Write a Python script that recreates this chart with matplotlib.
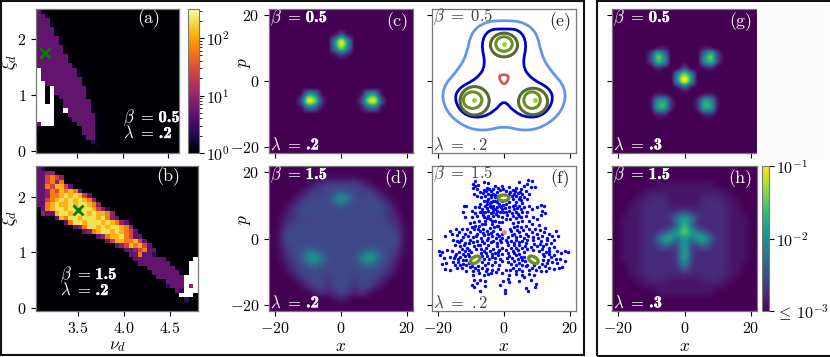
import numpy as np
import matplotlib
matplotlib.use('Agg')
from matplotlib import pyplot as plt
from matplotlib import patheffects
from matplotlib.cm import ScalarMappable
from matplotlib.colors import LogNorm
from matplotlib.patches import Ellipse, PathPatch, Rectangle
from matplotlib.path import Path

plt.rcParams['font.family'] = ['cmr10', 'DejaVu Sans']
plt.rcParams['mathtext.fontset'] = 'cm'
plt.rcParams['axes.formatter.use_mathtext'] = True
plt.rcParams['axes.unicode_minus'] = False

W, H = 830, 357

# stability maps, one char per cell, top row first. W = white (no data)
level_values = [1, 1.2, 2.5, 5, 9, 25, 60, 120, 200, 300]

map_a = [
    "31", "331", "3331", "3331", "33331", "33331", "333331", "333331",
    "3333331", "3333331", "33333331", "33333331", "333333331",
    "W333333331", "W333333331", "W3333333331", "WW333333331",
    "WW0W33333331", "WW0W33333331", "WW0W0333333" + "1", "WW0W00333333" + "1",
    "WWWW00333333" + "1", "WWWW00W33333" + "1", "WWWW000333333" + "1",
    "WWWW000033333" + "1", "3WWW000003333" + "1", "1" + "0" * 9 + "333" + "1",
    "0" * 10 + "333" + "1", "0" * 11 + "33" + "1", "0" * 12 + "21",
    "0" * 12 + "11", "0" * 12 + "1",
]

map_b = [
    "32",
    "3344",
    "335654",
    "3356461",
    "336577531",
    "33465767631",
    "334667878753",
    "3356787878764",
    "33678778788764",
    "1367887887887542",
    "04337887888787764",
    "000037688788878643",
    "00000036887888787643",
    "000000003468878788764",
    "0000000000346788787653",
    "00000000000003467786533",
    "000000000000000357766753",
    "0000000000000000034576753",
    "0" * 19 + "3345633",
    "0" * 20 + "336332",
    "0" * 21 + "3333333" + "1" + "0" * 5 + "W",
    "0" * 22 + "3333333" + "1" + "000" + "WW",
    "0" * 24 + "333333" + "1" + "00" + "WW",
    "0" * 25 + "333333" + "1" + "0" + "WW",
    "0" * 26 + "333333" + "WWW",
    "0" * 28 + "3333" + "WWW",
    "0" * 28 + "2333" + "W4W",
    "0" * 30 + "32" + "WWW",
    "0" * 31 + "WWW",
    "0" * 32 + "21",
    "0" * 32 + "1",
    "0",
]

nu_ticks = [3.5, 4.0, 4.5]
xi_ticks = [0, 1, 2]
marker_a = (3.15, 1.75)
marker_b = (3.5, 1.75)

# phase space densities on a 2 unit grid, hex level per cell, top row first
rows_c = [
    "0" * 23, "0" * 23, "0" * 23, "0" * 23,
    "0000000000" + "141" + "0000000000",
    "0000000000" + "7e7" + "0000000000",
    "0000000000" + "6c6" + "0000000000",
    "0000000000" + "131" + "0000000000",
    "0" * 23, "0" * 23, "0" * 23, "0" * 23, "0" * 23,
    "00000" + "1871" + "00000" + "1781" + "00000",
    "00000" + "4ec3" + "00000" + "3ce4" + "00000",
    "00000" + "1651" + "00000" + "1561" + "00000",
    "0" * 23, "0" * 23, "0" * 23, "0" * 23, "0" * 23, "0" * 23, "0" * 23,
]

rows_d = [
    "0" * 23, "0" * 23,
    "00000000011111000000000",
    "0000000" + "245555542" + "0000000",
    "00000" + "1354556554531" + "00000",
    "0000" + "135555" + "afa" + "555531" + "0000",
    "000" + "13" + "555555" + "7" + "555555" + "31" + "000",
    "000" + "2456" + "555555555" + "6542" + "000",
    "00" + "13354" + "555555555" + "45331" + "00",
    "00" + "14" + "5" * 15 + "41" + "00",
    "00" + "25" + "5" * 15 + "52" + "00",
    "00" + "26" + "5" * 15 + "62" + "00",
    "00" + "25" + "5" * 15 + "52" + "00",
    "00" + "1456986555556896541" + "00",
    "00" + "1356cfa" + "55555" + "afc6531" + "00",
    "000" + "245686" + "55555" + "686542" + "000",
    "000" + "13" + "5" * 13 + "31" + "000",
    "0000" + "135554555455531" + "0000",
    "00000" + "1355355535531" + "00000",
    "0000000" + "242454242" + "0000000",
    "0000000000" + "121" + "0000000000",
    "0" * 23, "0" * 23,
]

rows_g = [
    "0" * 23, "0" * 23, "0" * 23, "0" * 23, "0" * 23, "0" * 23,
    "000000" + "0110" + "000" + "0110" + "000000",
    "000000" + "3a60" + "000" + "06a3" + "000000",
    "000000" + "3a70" + "000" + "07a3" + "000000",
    "000000" + "0210" + "030" + "0120" + "000000",
    "0000000000" + "7c7" + "0000000000",
    "0000000000" + "8f8" + "0000000000",
    "0000000000" + "141" + "0000000000",
    "000000" + "0110" + "000" + "0110" + "000000",
    "000000" + "1782" + "000" + "2871" + "000000",
    "000000" + "1892" + "000" + "2981" + "000000",
    "000000" + "0220" + "000" + "0220" + "000000",
    "0" * 23, "0" * 23, "0" * 23, "0" * 23, "0" * 23, "0" * 23,
]

rows_h = [
    "0" * 23, "0" * 23, "0" * 23,
    "0000000" + "1" * 9 + "0000000",
    "00000" + "1" * 13 + "00000",
    "0000" + "112221111122211" + "0000",
    "000" + "11222211111222211" + "000",
    "000" + "1122222" + "232" + "2222211" + "000",
    "00" + "1112222" + "38b83" + "2222111" + "00",
    "00" + "1112222" + "15c51" + "2222111" + "00",
    "00" + "111222" + "37afa73" + "222111" + "00",
    "00" + "11122" + "5cb5a5bc5" + "22111" + "00",
    "00" + "11122" + "3633b3363" + "22111" + "00",
    "00" + "11122222" + "3c3" + "22222111" + "00",
    "00" + "11122222" + "3c3" + "22222111" + "00",
    "000" + "1122222" + "292" + "2222211" + "000",
    "000" + "1122222" + "232" + "2222211" + "000",
    "0000" + "112221111122211" + "0000",
    "00000" + "1" * 13 + "00000",
    "0000000" + "1" * 9 + "0000000",
    "0" * 23, "0" * 23, "0" * 23,
]

# panel (e), orbit outlines
orbit_outer_x = [0, 6, 10, 11.2, 13.5, 19, 17.8, 12, 6, 0, -6, -12, -17.8, -19, -13.5, -11.2, -10, -6]
orbit_outer_y = [18.4, 17.9, 14.6, 8.4, 3.8, -2.2, -9.2, -14, -15.2, -13.6, -15.2, -14, -9.2, -2.2, 3.8, 8.4, 14.6, 17.9]
orbit_mid_x = [0, 4.8, 7.0, 5.5, 8, 14, 15, 12.3, 7.5, 2.9, 0, -2.9, -7.5, -12.3, -15, -14, -8, -5.5, -7.0, -4.8]
orbit_mid_y = [15.8, 15.6, 11.4, 4.8, 0.8, -2.2, -6, -10.2, -11.3, -9.3, -5.6, -9.3, -11.3, -10.2, -6, -2.2, 0.8, 4.8, 11.4, 15.6]
orbit_red_x = [-2.1, 2.0, 0.1]
orbit_red_y = [1.9, 1.9, -1.8]
lobe_outer_x = [0, -8.9, 8.8]
lobe_outer_y = [10.9, -6.0, -6.2]
lobe_outer_w = [8.2, 8.8, 8.8]
lobe_outer_h = [7.2, 8.6, 8.0]
lobe_inner_x = [0, -9.5, 8.5]
lobe_inner_y = [11.2, -5.8, -5.8]
lobe_inner_w = [5.0, 5.6, 5.0]
lobe_inner_h = [4.4, 5.0, 5.0]
lobe_dot_x = [0, -9.2, 9.3]
lobe_dot_y = [11.3, -5.9, -5.9]

# panel (f), chaotic orbit points, by region
spread_top_left = [
    (-8.9, 17.4), (-9.5, 16.4), (-8.7, 15.7), (-7.9, 16.1), (-6.2, 17.1), (-4.9, 16.7), (-9.5, 15.1), (-8.2, 14.9),
    (-7.2, 13.9), (-6.2, 14.7), (-5.2, 15.1), (-3.9, 14.4), (-2.7, 15.7), (-9.2, 13.4), (-8.2, 12.9), (-6.9, 12.4),
    (-5.7, 12.9), (-4.7, 13.4), (-3.2, 13.4), (-2.2, 14.1), (-1.2, 14.7), (-0.2, 14.9), (-12.2, 9.7), (-11.4, 9.9),
    (-12.5, 7.9), (-11.7, 6.4), (-9.7, 8.4), (-8.7, 9.4), (-7.2, 10.4), (-6.2, 11.4), (-4.7, 11.9), (-3.2, 11.4),
    (-2.2, 10.9), (-1.2, 9.9), (-0.2, 10.1), (-3.9, 12.4), (-2.7, 12.4), (-1.7, 11.9), (-3.9, 10.9), (-5.2, 10.4),
    (-2.2, 9.4), (-0.7, 8.9), (-4.7, 8.4), (-3.2, 8.1), (-1.7, 6.9), (-4.2, 5.9), (-2.7, 5.4), (-0.7, 4.9),
    (-5.7, 5.4), (-6.7, 4.4), (-8.7, 3.9), (-9.7, 3.4), (-10.2, 1.9), (-8.2, 1.4), (-4.7, 1.4), (-2.2, 1.4),
    (-0.5, 1.4), (-7.7, 9.4), (-6.7, 8.9), (-3.2, 9.9), (-5.7, 7.9), (-0.7, 11.4), (-1.2, 12.9), (-9.7, 6.4),
    (-8.2, 6.9), (-6.7, 7.9), (-5.2, 9.1), (-3.9, 9.4), (-2.7, 8.9), (-1.2, 7.9), (-9.2, 4.9), (-7.7, 5.4),
    (-6.2, 6.4), (-4.7, 6.9), (-3.2, 6.9), (-16.2, 2.2), (-13.7, 1.9), (-11.7, 1.4), (-9.2, 2.9), (-7.7, 3.9),
    (-5.7, 4.4), (-3.7, 4.4), (-2.2, 3.9), (-7.2, 2.4), (-5.2, 2.4), (-3.2, 2.4), (-1.2, 2.9), (-15.6, 1.4),
]
spread_top_right = [
    (7.3, 17.7), (8.6, 17.4), (4.6, 16.9), (7.1, 16.4), (9.3, 15.4), (6.1, 15.7), (8.1, 15.4), (5.1, 14.9),
    (3.6, 15.1), (1.6, 15.4), (2.6, 14.7), (6.6, 14.4), (7.6, 13.4), (5.6, 13.4), (4.1, 13.7), (2.9, 13.4),
    (6.1, 12.4), (4.6, 11.9), (2.6, 11.9), (7.1, 11.9), (3.6, 11.1), (1.6, 10.9), (5.6, 10.7), (0.6, 10.4),
    (2.6, 9.9), (4.6, 9.7), (6.1, 9.4), (7.6, 9.7), (11.1, 10.1), (12.1, 9.9), (10.1, 9.4), (8.6, 8.9),
    (11.6, 8.4), (12.3, 7.7), (7.1, 8.1), (5.6, 7.9), (3.6, 8.1), (1.6, 8.4), (0.6, 7.9), (2.6, 6.9),
    (4.6, 6.7), (6.6, 6.9), (8.9, 6.4), (11.1, 7.1), (10.1, 5.9), (7.6, 5.4), (5.6, 5.4), (4.1, 4.9),
    (2.6, 4.7), (3.1, 3.4), (5.1, 3.4), (6.6, 3.9), (8.6, 4.4), (12.1, 1.9), (13.6, 1.4), (15.6, 2.4),
    (10.1, 1.4), (8.6, 1.9), (6.6, 1.4), (4.6, 1.9), (3.1, 1.4),
]
spread_bottom_left = [
    (-15.5, -0.4), (-14.2, -0.7), (-12.9, -0.4), (-11.9, -1.4), (-10.2, -0.4), (-8.2, -0.9), (-6.7, -0.7), (-5.2, -0.4),
    (-3.2, -0.7), (-1.2, -0.4), (-14.9, -1.9), (-13.2, -2.4), (-11.2, -2.9), (-9.2, -2.4), (-7.2, -1.9), (-4.7, -2.1),
    (-2.2, -2.4), (-0.7, -2.9), (-19.7, -3.9), (-18.9, -4.1), (-17.2, -3.4), (-19.5, -4.9), (-15.7, -3.9), (-13.7, -4.1),
    (-11.7, -3.9), (-9.9, -4.1), (-6.2, -3.7), (-4.2, -3.9), (-2.7, -4.4), (-18.2, -5.9), (-16.2, -5.7), (-14.7, -5.4),
    (-13.2, -5.7), (-11.7, -5.4), (-10.5, -5.4), (-6.7, -5.4), (-5.2, -5.4), (-3.5, -5.7), (-1.7, -5.1), (-18.9, -7.7),
    (-17.5, -7.4), (-15.5, -7.1), (-13.9, -7.1), (-12.5, -7.7), (-10.7, -7.4), (-6.7, -7.1), (-4.7, -7.4), (-2.7, -7.1),
    (-0.7, -6.7), (-17.9, -9.1), (-16.2, -9.4), (-14.2, -8.9), (-12.7, -8.9), (-11.5, -9.9), (-10.2, -8.7), (-8.7, -8.9),
    (-6.7, -8.9), (-5.2, -9.1), (-3.7, -9.4), (-1.7, -9.1), (-9.5, -11.1), (-7.7, -10.4), (-6.2, -10.9), (-4.7, -10.7),
    (-9.2, -12.4), (-7.2, -12.4), (-5.7, -12.9), (-8.2, -13.4), (-9.7, -13.9), (-5.9, -14.4), (-7.2, -15.7), (-9.2, -14.7),
    (-1.2, -14.1), (-0.2, -12.7), (-0.7, -10.4),
]
spread_bottom_right = [
    (0.6, -0.4), (2.1, -0.7), (3.6, -0.4), (5.6, -0.7), (7.1, -0.4), (8.9, -0.4), (11.1, -0.7), (12.9, -0.4),
    (15.1, -0.4), (1.3, -1.9), (3.1, -2.1), (4.6, -1.9), (6.3, -2.4), (8.1, -2.7), (10.1, -2.4), (11.9, -2.4),
    (13.6, -2.9), (0.6, -3.4), (2.6, -3.7), (4.1, -3.4), (6.1, -4.1), (10.6, -3.9), (12.6, -4.1), (15.9, -3.7),
    (17.3, -4.4), (18.6, -3.9), (19.3, -4.1), (1.6, -5.4), (3.6, -5.1), (5.1, -5.7), (12.1, -5.4), (14.1, -5.7),
    (15.6, -6.1), (17.1, -6.1), (18.6, -6.7), (1.1, -7.1), (3.1, -6.9), (4.6, -7.4), (6.3, -6.9), (11.6, -7.7),
    (13.1, -7.4), (15.1, -9.1), (16.6, -8.9), (17.6, -8.7), (0.6, -9.4), (2.6, -8.9), (4.6, -9.1), (6.6, -8.4),
    (8.6, -8.9), (11.1, -9.7), (12.6, -9.9), (1.6, -10.9), (3.6, -10.7), (5.6, -11.1), (7.6, -10.7), (9.1, -11.1),
    (1.1, -12.1), (4.6, -12.7), (6.1, -11.7), (8.1, -12.4), (1.6, -13.1), (6.6, -14.9), (9.3, -14.7), (9.6, -13.7),
    (7.3, -15.7), (0.4, -15.4), (0.4, -16.4),
]
spread_top_dense = [
    (-5.5, 14.2), (-4.4, 14.9), (-3.2, 15), (-1.9, 15.2), (-0.6, 15.8), (0.7, 14.3), (1.9, 14.1), (3.4, 14.2), (4.9, 13.9),
    (-6.3, 13.6), (-4, 13), (-2.6, 13.1), (-1.9, 12.8), (1.4, 13.4), (2.4, 12.7), (3.5, 12.9), (4.9, 12.5), (5.2, 11.5),
    (-5, 11.2), (-4.2, 10.6), (-2.8, 11.2), (-1.5, 10.3), (-0.9, 9.6), (0.3, 9.2), (1.4, 9.6), (3.3, 10.2), (4, 9.1),
    (5.2, 9), (3, 8.9), (-5.9, 9.7), (-4.3, 9.9), (-3.4, 8.9), (-2, 8.4), (-0.2, 7.9), (1, 7), (2.3, 7.8), (4.3, 7.4),
    (5.2, 6.6), (-4, 7.6), (-2.5, 7.3), (-0.6, 6.5), (0.5, 5.9), (1.9, 5.9), (3.6, 6.1), (-5.1, 6.1), (-3.5, 5.3),
    (-1.5, 5.1), (-6.4, 7.2), (-7.4, 8.1), (-8.8, 7.6),
]
spread_left_dense = [
    (-13.7, -1.1), (-12.1, -2), (-10.5, -1.5), (-9.3, -1.2), (-8, -2), (-6.1, -1.4), (-4, -1.1), (-2.1, -1.5), (-0.9, -1.2),
    (-12.6, -3.2), (-10.7, -3.4), (-8.4, -3.3), (-7.1, -3.1), (-5.3, -3), (-3.4, -3.3), (-1.5, -3.5), (-14.6, -4.6),
    (-12.5, -4.7), (-11, -4.8), (-7, -4.4), (-5.6, -4.4), (-3.7, -4.7), (-1.9, -4.2), (-0.6, -4.6), (-15.2, -6),
    (-13.9, -6.3), (-12.4, -6.4), (-11.4, -6.6), (-6.2, -6.3), (-4.4, -6.2), (-2.8, -5.9), (-1.2, -6.1), (-14.7, -7.9),
    (-13.2, -8), (-11.5, -8), (-9.6, -8.4), (-7.8, -8.2), (-5.8, -8), (-3.7, -8.1), (-1.5, -7.9), (-9.4, -9.8),
    (-8, -9.6), (-5.6, -9.9), (-3.9, -10.5), (-2.4, -10),
]
spread_right_dense = [
    (1, -1.1), (2.9, -1.3), (4.6, -1.2), (6.6, -1.5), (9.2, -1.6), (10.9, -1.6), (12.6, -1.6), (14.3, -1.4), (2, -2.9),
    (3.6, -3), (5.3, -3), (7.1, -3.2), (8.9, -3.6), (11.5, -3.2), (13.7, -3.9), (15, -2.7), (1.2, -4.3), (3, -4.5),
    (4.6, -4.6), (6, -5.5), (11.8, -4.6), (13.5, -4.8), (15.1, -5), (0.9, -6), (2.4, -6), (4.3, -6.2), (5.5, -6.6),
    (11.9, -6.4), (13.2, -6.4), (14.6, -7.1), (16.1, -7.3), (2, -7.8), (3.7, -8), (5.6, -7.9), (7, -8), (9.1, -8),
    (10.6, -8.6), (12.3, -8.4), (13.6, -8.8), (1.7, -9.6), (3.5, -9.7), (5.4, -9.7), (7.5, -9.6), (9.6, -9.5),
]
spread_mid = [
    (-14.3, 1.1), (-12.5, 0.6), (-11, 0.9), (-9.5, 0.4), (-8.4, 0.7), (-7, 0.2), (-6, 1), (-4.8, 0.3), (-3.5, 0.8),
    (-2.3, 0.2), (-1.4, 0.7), (-0.6, 0.1), (1.3, 0.5), (2.4, 1.1), (3.7, 0.4), (4.9, 0.9), (6, 0.2), (7.3, 0.8),
    (8.8, 0.5), (10.2, 0.2), (11.6, 0.7), (13, 0.3), (14.6, 0.9), (16.2, 0.8), (-17.8, 0.9), (-6.5, 3), (-4.2, 3.2),
    (-3, 3.4), (-1.7, 3.8), (1.8, 3), (3.9, 2.7), (5.9, 2.6), (7.5, 2.8), (9.4, 3), (11, 2.5), (12.5, 3.1), (-11.2, 3),
    (-12.6, 2.9), (-14.5, 3), (-10.4, 4.8), (-8, 2.9), (10.5, 4.2), (-6.4, 1.7), (-3.8, 1.8), (2, 2.2), (4, 3.8),
]
island_x = [-0.1, -8.7, 8.9]
island_y = [12.2, -6.4, -6.4]
island_angle = [0, 30, -30]

phase_ticks = [-20, 0, 20]
phase_tick_labels = ['$-20$', '$0$', '$20$']
phase_lim = 21.8


def px_axes(fig, left, top, right, bottom):
    return fig.add_axes([left / W, 1 - bottom / H, (right - left) / W, (bottom - top) / H])


def style_spines(ax):
    for spine in ax.spines.values():
        spine.set_color('#777777')
        spine.set_linewidth(0.9)


def decode_levels(rows, n_cols):
    data = np.full((len(rows), n_cols), np.nan)
    for i, row in enumerate(rows):
        for j, ch in enumerate(row.ljust(n_cols, '0')[:n_cols]):
            if ch != 'W':
                data[i, j] = level_values[int(ch)]
    return data


def decode_density(rows, scale):
    return np.array([[int(ch, 16) / 15 * scale for ch in row] for row in rows])


def draw_stability(ax, rows, n_cols, xlim, ylim, marker):
    cmap = plt.get_cmap('inferno').copy()
    cmap.set_bad('white')
    data = decode_levels(rows, n_cols)
    nu_edges = 3.05 + 0.05 * np.arange(n_cols + 1)
    xi_edges = np.linspace(ylim[1], ylim[0], len(rows) + 1)
    ax.pcolormesh(nu_edges, xi_edges, data, cmap=cmap, norm=LogNorm(1, 320))
    ax.plot(marker[0], marker[1], 'x', color='green', markersize=7, markeredgewidth=2)
    ax.set_xlim(xlim)
    ax.set_ylim(ylim)
    ax.set_xticks(nu_ticks)
    ax.set_yticks(xi_ticks)
    ax.set_yticklabels(['$0$', '$1$', '$2$'])
    style_spines(ax)


def phase_axes(ax, show_x=False, show_y=False):
    ax.set_xlim(-phase_lim, phase_lim)
    ax.set_ylim(-phase_lim, phase_lim)
    ax.set_xticks(phase_ticks)
    ax.set_yticks(phase_ticks)
    ax.set_xticklabels(phase_tick_labels if show_x else [])
    ax.set_yticklabels(phase_tick_labels if show_y else [])
    if show_x:
        ax.set_xlabel('$x$', labelpad=2)
    if show_y:
        ax.set_ylabel('$p$')
        ax.yaxis.set_label_coords(-0.11, 0.63)
    style_spines(ax)


def draw_density(ax, rows, scale=1.0, interpolation='catrom'):
    ax.imshow(decode_density(rows, scale), cmap='viridis', vmin=0, vmax=1, interpolation=interpolation,
              extent=(-23, 23, -23, 23), aspect='auto')


def closed_curve(xs, ys):
    # the listed points are control points of a smooth closed curve
    pts = np.column_stack([xs, ys])
    mids = (pts + np.roll(pts, -1, axis=0)) / 2
    verts = [mids[-1]]
    codes = [Path.MOVETO]
    for p, m in zip(pts, mids):
        verts += [p, m]
        codes += [Path.CURVE3, Path.CURVE3]
    return Path(verts, codes)


def bold_value(ax, x, y, prefix, value, color):
    # y is the centre of the line, both parts sit on one baseline 5 px below it
    base = y - 5 / ax.get_window_extent().height
    head = ax.text(x, base, '$' + prefix + r'\ =$', transform=ax.transAxes, ha='left', va='baseline',
                   color=color, fontsize=12)
    head_box = head.get_window_extent(fig.canvas.get_renderer())
    x_value = ax.transAxes.inverted().transform((head_box.x1 + 4, head_box.y0))[0]
    tail = ax.text(x_value, base, value, transform=ax.transAxes, ha='left', va='baseline', color=color,
                   fontsize=12, family='cmb10')
    tail.set_path_effects([patheffects.withStroke(linewidth=0.3, foreground=color)])


def panel_tag(ax, tag, color='white', x=0.965, y=0.91):
    ax.text(x, y, tag, transform=ax.transAxes, ha='right', va='center', color=color, fontsize=13)


plt.rcParams['font.size'] = 11.5
plt.rcParams['xtick.labelsize'] = 11.5
plt.rcParams['ytick.labelsize'] = 11.5
plt.rcParams['axes.labelsize'] = 12.5

fig = plt.figure(figsize=(W / 100, H / 100), dpi=100)

# outer frames and the faint patch right of (g)
fig.add_artist(Rectangle((757 / W, 1 - 160 / H), 68 / W, 157 / H, facecolor='#fcfcfc', edgecolor='none'))
fig.add_artist(Rectangle((1 / W, 1 - 355 / H), 583 / W, 354 / H, fill=False, edgecolor='#111111', linewidth=1.5))
fig.add_artist(Rectangle((597 / W, 1 - 355.5 / H), 300 / W, 354.5 / H, fill=False, edgecolor='#111111', linewidth=1.5))

# (a) and its colorbar
ax_a = px_axes(fig, 36, 9, 179, 153)
draw_stability(ax_a, map_a, 32, (3.05, 4.62), (-0.04, 2.54), marker_a)
ax_a.set_xticklabels([])
ax_a.set_ylabel(r'$\xi_d$')
ax_a.yaxis.set_label_coords(-0.112, 0.63)
panel_tag(ax_a, '(a)', x=0.872, y=0.93)
bold_value(ax_a, 0.61, 0.25, r'\beta', '0.5', 'white')
bold_value(ax_a, 0.61, 0.139, r'\lambda', '.2', 'white')

cax_a = px_axes(fig, 188, 9, 199, 153)
cb_a = fig.colorbar(ScalarMappable(norm=LogNorm(1, 320), cmap='inferno'), cax=cax_a)
cb_a.set_ticks([1, 10, 100])
cb_a.set_ticklabels(['$10^{0}$', '$10^{1}$', '$10^{2}$'])
cb_a.outline.set_edgecolor('#777777')
cax_a.tick_params(which='minor', length=2, width=0.6)
cax_a.tick_params(which='major', pad=1.5)

# (b)
ax_b = px_axes(fig, 36, 166, 198, 311)
draw_stability(ax_b, map_b, 35, (3.05, 4.80), (-0.06, 2.55), marker_b)
ax_b.set_xticklabels(['$3.5$', '$4.0$', '$4.5$'])
ax_b.set_xlabel(r'$\nu_d$', labelpad=2)
ax_b.set_ylabel(r'$\xi_d$')
ax_b.yaxis.set_label_coords(-0.099, 0.64)
panel_tag(ax_b, '(b)', x=0.889, y=0.93)
bold_value(ax_b, 0.148, 0.255, r'\beta', '1.5', 'white')
bold_value(ax_b, 0.148, 0.145, r'\lambda', '.2', 'white')

# (c), (d)
ax_c = px_axes(fig, 269, 9, 413, 153)
draw_density(ax_c, rows_c)
phase_axes(ax_c, show_y=True)
panel_tag(ax_c, '(c)')
bold_value(ax_c, 0.01, 0.945, r'\beta', '0.5', 'white')
bold_value(ax_c, 0.01, 0.06, r'\lambda', '.2', 'white')

ax_d = px_axes(fig, 269, 166, 413, 311)
draw_density(ax_d, rows_d, scale=0.65, interpolation='bicubic')
phase_axes(ax_d, show_x=True, show_y=True)
panel_tag(ax_d, '(d)')
bold_value(ax_d, 0.01, 0.945, r'\beta', '1.5', 'white')
bold_value(ax_d, 0.01, 0.06, r'\lambda', '.2', 'white')

# (e), regular orbits
ax_e = px_axes(fig, 432, 9, 576, 153)
ax_e.add_patch(PathPatch(closed_curve(orbit_outer_x, orbit_outer_y), fill=False, edgecolor='cornflowerblue', linewidth=2))
ax_e.add_patch(PathPatch(closed_curve(orbit_mid_x, orbit_mid_y), fill=False, edgecolor='mediumblue', linewidth=2))
ax_e.add_patch(PathPatch(closed_curve(orbit_red_x, orbit_red_y), fill=False, edgecolor='indianred', linewidth=2))
for x, y, w, h in zip(lobe_outer_x, lobe_outer_y, lobe_outer_w, lobe_outer_h):
    ax_e.add_patch(Ellipse((x, y), w, h, fill=False, edgecolor='darkolivegreen', linewidth=2.2))
for x, y, w, h in zip(lobe_inner_x, lobe_inner_y, lobe_inner_w, lobe_inner_h):
    ax_e.add_patch(Ellipse((x, y), w, h, fill=False, edgecolor='olivedrab', linewidth=2.2))
ax_e.plot(lobe_dot_x, lobe_dot_y, 'o', color='yellowgreen', markersize=2.5)
phase_axes(ax_e)
panel_tag(ax_e, '(e)', color='#222222')
ax_e.text(0.01, 0.945, r'$\beta\ =\ 0.5$', transform=ax_e.transAxes, va='center', color='#444444', fontsize=12)
ax_e.text(0.01, 0.06, r'$\lambda\ =\ .2$', transform=ax_e.transAxes, va='center', color='#444444', fontsize=12)

# (f), chaotic orbit with islands
ax_f = px_axes(fig, 432, 166, 576, 311)
for pts in (spread_top_left, spread_top_right, spread_bottom_left, spread_bottom_right,
            spread_top_dense, spread_left_dense, spread_right_dense, spread_mid):
    xy = np.array(pts)
    ax_f.scatter(xy[:, 0], xy[:, 1], s=6, color='blue', linewidths=0)
ax_f.plot(0, 2, 'o', color='lightcoral', markersize=2.5)
for x, y, a in zip(island_x, island_y, island_angle):
    ax_f.add_patch(Ellipse((x, y), 3.2, 1.8, angle=a, facecolor='white', edgecolor='olivedrab', linewidth=2.4, zorder=3))
phase_axes(ax_f, show_x=True)
panel_tag(ax_f, '(f)', color='#222222', x=0.955)
ax_f.text(0.01, 0.945, r'$\beta\ =\ 1.5$', transform=ax_f.transAxes, va='center', color='#444444', fontsize=12)
ax_f.text(0.01, 0.06, r'$\lambda\ =\ .2$', transform=ax_f.transAxes, va='center', color='#444444', fontsize=12)

# (g), (h) and the density colorbar
ax_g = px_axes(fig, 612, 9, 757, 153)
draw_density(ax_g, rows_g)
phase_axes(ax_g)
panel_tag(ax_g, '(g)')
bold_value(ax_g, 0.01, 0.945, r'\beta', '0.5', 'white')
bold_value(ax_g, 0.01, 0.06, r'\lambda', '.3', 'white')

ax_h = px_axes(fig, 612, 166, 757, 311)
draw_density(ax_h, rows_h, scale=0.9, interpolation='bicubic')
phase_axes(ax_h, show_x=True)
panel_tag(ax_h, '(h)')
bold_value(ax_h, 0.01, 0.945, r'\beta', '1.5', 'white')
bold_value(ax_h, 0.01, 0.06, r'\lambda', '.3', 'white')

cax_h = px_axes(fig, 762, 166, 769, 311)
cb_h = fig.colorbar(ScalarMappable(norm=LogNorm(1e-3, 1e-1), cmap='viridis'), cax=cax_h)
cb_h.set_ticks([1e-3, 1e-2, 1e-1])
cb_h.set_ticklabels([r'$\leq\,10^{-3}$', '$10^{-2}$', '$10^{-1}$'])
cax_h.minorticks_off()
cb_h.outline.set_edgecolor('#777777')
cax_h.tick_params(which='major', pad=1.5)

plt.savefig('out.png', dpi=100)
